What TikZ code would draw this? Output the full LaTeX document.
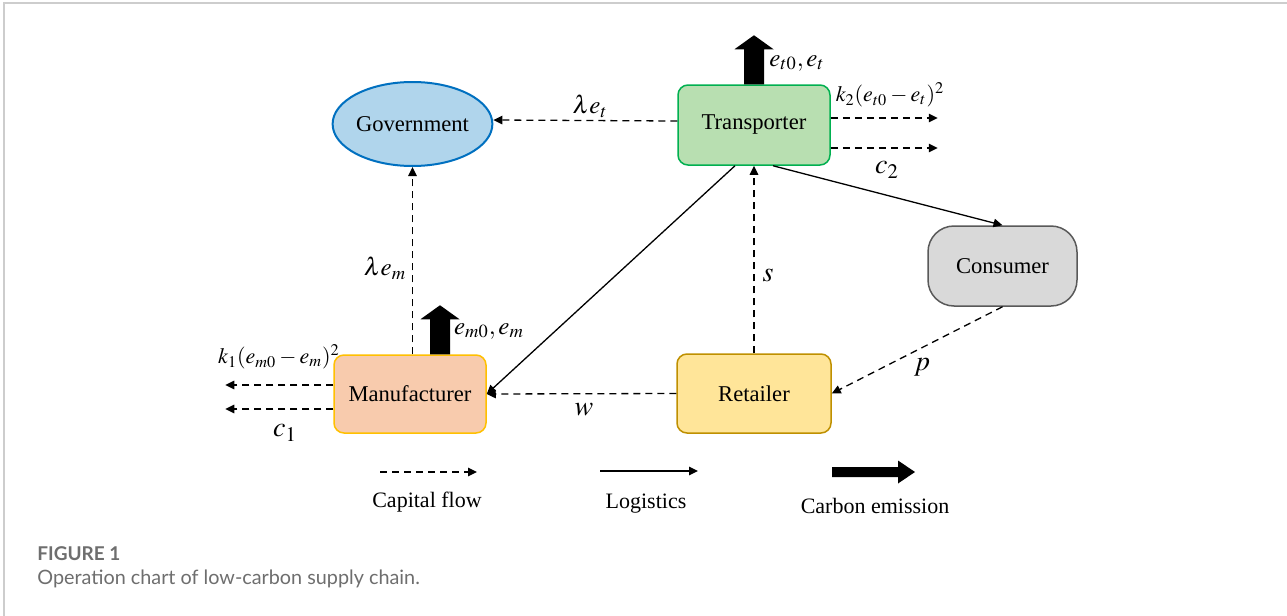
\documentclass[tikz,border=0pt]{standalone}
\usepackage{mathptmx}
\usepackage[no-math]{fontspec}
\setmainfont{Liberation Serif}
\newfontfamily\capfont{Lato}
\usetikzlibrary{shapes.geometric,arrows.meta,calc}
\definecolor{govfill}{RGB}{176,213,236}
\definecolor{govline}{RGB}{0,112,192}
\definecolor{tfill}{RGB}{184,223,177}
\definecolor{tline}{RGB}{0,176,80}
\definecolor{cfill}{RGB}{217,217,217}
\definecolor{cline}{RGB}{89,89,89}
\definecolor{rfill}{RGB}{255,229,153}
\definecolor{rline}{RGB}{191,144,0}
\definecolor{mfill}{RGB}{248,203,173}
\definecolor{mline}{RGB}{255,192,0}
\definecolor{framegray}{RGB}{205,205,205}
\definecolor{capgray}{RGB}{110,110,110}
\tikzset{
  nodefont/.style={font=\fontsize{11.3}{13}\selectfont},
  box/.style={draw, rounded corners=5pt, line width=0.75pt, inner sep=0pt, nodefont},
  capflow/.style={line width=0.65pt, dash pattern=on 3.5pt off 2.5pt, -{Triangle[length=4.5pt,width=4.2pt]}},
  logi/.style={line width=0.65pt, -{Triangle[length=4.5pt,width=4.2pt]}},
  lab/.style={inner sep=0pt, font=\fontsize{11}{13}\selectfont},
  elab/.style={inner sep=0pt, font=\fontsize{12.5}{14}\selectfont},
  biglab/.style={inner sep=0pt, font=\fontsize{14}{16}\selectfont},
  legtext/.style={inner sep=0pt, font=\fontsize{11}{13}\selectfont},
  emis/.pic={\fill (-10,0) -- ++(0,-35) -- ++(-9.5,0) -- ++(19.5,-14) -- ++(19.5,14) -- ++(-9.5,0) -- ++(0,35) -- cycle;}
}
\begin{document}
\begin{tikzpicture}[x=0.5pt,y=-0.5pt]
\useasboundingbox (0,0) rectangle (1287,616);
\fill[white] (0,0) rectangle (1287,616);
\draw[framegray, line width=0.8pt] (4,616) -- (4,3) -- (1287,3);

% nodes
\node[ellipse, draw=govline, fill=govfill, line width=1pt, minimum width=75.5pt, minimum height=42pt, inner sep=0pt, nodefont] (G) at (412.5,124) {Government};
\node[box, draw=tline, fill=tfill, minimum width=76pt, minimum height=40pt] (T) at (754,125) {Transporter};
\node[box, draw=cline, fill=cfill, rounded corners=13pt, minimum width=74.5pt, minimum height=40pt] (C) at (1002.5,266) {Consumer};
\node[box, draw=rline, fill=rfill, minimum width=77pt, minimum height=39.5pt] (R) at (754,393.5) {Retailer};
\node[box, draw=mline, fill=mfill, minimum width=76pt, minimum height=39pt] (M) at (410,394) {Manufacturer};

% carbon emission arrows
\pic at (T.north) {emis};
\pic at ($(M.north)+(15pt,0)$) {emis};

% capital flows
\draw[capflow] ([yshift=2pt]T.west) -- ([yshift=2pt]G.east);
\draw[capflow] (R.north) -- (T.south);
\draw[capflow] (C.south) -- (R.east);
\draw[capflow] (R.west) -- (M.east);
\draw[capflow] (G.south |- M.north) -- (G.south);
\draw[capflow] ([yshift=3.5pt]T.east) -- ++(107,0);
\draw[capflow] ([yshift=-11.5pt]T.east) -- ++(107,0);
\draw[capflow] ([yshift=4.5pt]M.west) -- ++(-108,0);
\draw[capflow] ([yshift=-7.5pt]M.west) -- ++(-108,0);

% logistics
\draw[logi] ($(T.south)+(-9.5pt,0)$) -- (M.east);
\draw[logi] ($(T.south)+(9.5pt,0)$) -- (C.north);

% labels
\node[elab] (lt) at (590,106) {$\lambda e_t$};
\node[elab] (et) at (797,63) {$e_{t0},e_t$};
\node[lab] (k2) at (890,95) {$k_2(e_{t0}-e_t)^2$};
\node[biglab] (c2) at (887,170) {$c_2$};
\node[elab] (lm) at (385,268) {$\lambda e_m$};
\node[elab] (em) at (489,331) {$e_{m0},e_m$};
\node[lab] (k1) at (279,357) {$k_1(e_{m0}-e_m)^2$};
\node[biglab] (c1) at (285,433) {$c_1$};
\node[biglab] (s) at (768,275) {$s$};
\node[biglab] (p) at (922,367) {$p$};
\node[biglab] (w) at (584,410) {$w$};

% legend
\coordinate (la1) at (380,472);
\coordinate (la2) at (477,472);
\draw[capflow] (la1) -- (la2);
\node[legtext] (lc) at (427,502) {Capital flow};
\coordinate (lb1) at (600,471);
\coordinate (lb2) at (698,471);
\draw[logi] (lb1) -- (lb2);
\node[legtext] (ll) at (646,504) {Logistics};
\fill (832,467) -- (898,467) -- (898,460.5) -- (915,472) -- (898,483.5) -- (898,477) -- (832,477) -- cycle;
\node[legtext] (le) at (875,506) {Carbon emission};

% caption
\node[anchor=west, inner sep=0pt, text=capgray, font=\capfont\bfseries\fontsize{9.5}{11}\selectfont] (fig) at (37,554) {FIGURE 1};
\node[anchor=west, inner sep=0pt, text=capgray, font=\capfont\fontsize{9.9}{11}\selectfont] (capt) at (37,579) {Operation chart of low-carbon supply chain.};
\end{tikzpicture}
\end{document}
